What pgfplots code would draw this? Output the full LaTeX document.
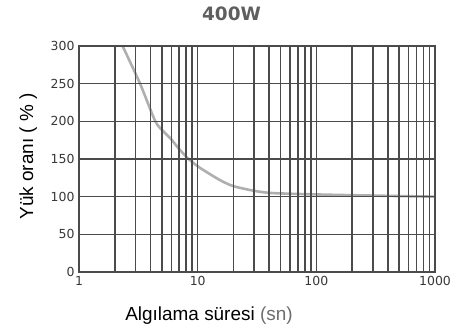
\documentclass[border=0pt]{standalone}
\usepackage{pgfplots}
\pgfplotsset{compat=1.18}
\usepackage{fontspec}
\setmainfont{Liberation Sans}
\newfontfamily\tickfont{DejaVu Sans}

\definecolor{gridcol}{RGB}{75,75,75}
\definecolor{curvecol}{RGB}{175,175,175}
\definecolor{titlecol}{RGB}{95,95,95}
\definecolor{unitcol}{RGB}{110,110,110}

\begin{document}
\begin{tikzpicture}[x=1bp,y=1bp]
\useasboundingbox (0,0) rectangle (451,329);
\begin{axis}[
  at={(79bp,57bp)}, anchor=south west,
  scale only axis, width=356bp, height=226bp,
  xmode=log, xmin=1, xmax=1000, ymin=0, ymax=300,
  xtick={1,10,100,1000},
  xticklabels={1,10,100,1000},
  ytick={0,50,...,300},
  grid=both,
  major grid style={gridcol, line width=1.6bp},
  minor grid style={gridcol, line width=1.6bp},
  axis line style={gridcol, line width=1.7bp},
  axis on top,
  tick style={draw=none},
  /pgf/number format/assume math mode=true,
  ticklabel style={font=\tickfont\fontsize{12.5}{12.5}\selectfont, text=black!78},
  xticklabel style={yshift=-1bp},
  yticklabel style={xshift=-1bp},
]
% load ratio versus detection time
\addplot[curvecol, line width=2.6bp, smooth, tension=0.45] coordinates {
  (2.33,300) (3.27,250) (4.4,200) (5.2,186) (6,176) (7,163) (8.4,150) (10.3,139)
  (15.4,122) (20,114) (29.4,108) (40.6,105) (73,103.5) (192,102) (1000,100)
};
\end{axis}
\node[anchor=center, text=titlecol, font=\tickfont\bfseries\fontsize{18.5}{18.5}\selectfont] at (231.5,315.5) {400W};
\node[anchor=base, font=\fontsize{19}{19}\selectfont] at (209,9) {Algılama süresi \textcolor{unitcol}{(sn)}};
\node[anchor=base, rotate=90, font=\fontsize{19}{19}\selectfont] at (33,172.5) {Yük oranı ( \% )};
\end{tikzpicture}
\end{document}
